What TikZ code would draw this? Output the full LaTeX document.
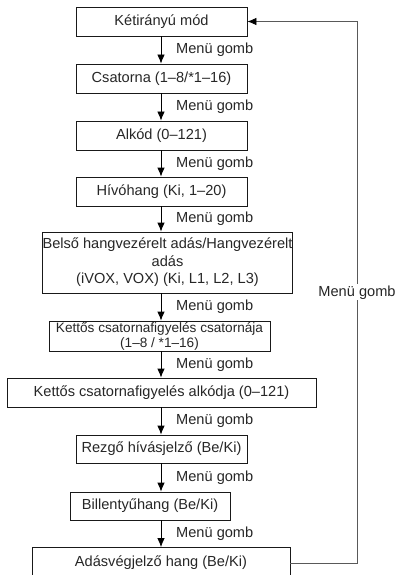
\documentclass[tikz,border=0pt]{standalone}
\usepackage{fontspec}
\setmainfont{Liberation Sans}
\usetikzlibrary{arrows.meta, positioning, calc}

\begin{document}
\begin{tikzpicture}[
    x=1pt, y=-1pt,
    every node/.style={align=center, font=\fontsize{14.6}{17.5}\selectfont, text=black!85},
    menubox/.style={draw=black!90, line width=0.8pt, minimum height=29pt, inner sep=0pt},
    flow/.style={line width=0.8pt, -{Latex[length=9pt, width=7.5pt, color=black]}},
    back/.style={draw=black!65, line width=0.8pt},
    btnlabel/.style={anchor=west, inner sep=0pt}
]

    % Page size of the reference
    \useasboundingbox (0, 0) rectangle (397, 575);

    % Menu steps, top to bottom
    \node[menubox, minimum width=171pt] (m1) at (161.5, 21.5) {Kétirányú mód};
    \node[menubox, minimum width=171pt] (m2) at (161.5, 78.5) {Csatorna (1–8/*1–16)};
    \node[menubox, minimum width=171pt] (m3) at (161.5, 135.5) {Alkód (0–121)};
    \node[menubox, minimum width=171pt] (m4) at (161.5, 191.5) {Hívóhang (Ki, 1–20)};
    \node[menubox, minimum width=245pt, minimum height=61pt] (m5) at (167.5, 262.5) {Belső hangvezérelt adás/Hangvezérelt\\adás\\(iVOX, VOX) (Ki, L1, L2, L3)};
    \node[menubox, minimum width=221pt, minimum height=30pt, font=\fontsize{13.6}{15}\selectfont] (m6) at (159.5, 336) {Kettős csatornafigyelés csatornája\\(1–8 / *1–16)};
    \node[menubox, minimum width=309pt] (m7) at (161.5, 392.5) {Kettős csatornafigyelés alkódja (0–121)};
    \node[menubox, minimum width=171pt, minimum height=28pt] (m8) at (161.5, 449) {Rezgő hívásjelző (Be/Ki)};
    \node[menubox, minimum width=160pt, minimum height=28pt] (m9) at (150, 506) {Billentyűhang (Be/Ki)};
    \node[menubox, minimum width=258pt, minimum height=31pt] (m10) at (161, 563) {Adásvégjelző hang (Be/Ki)};

    % Arrow column and return line column
    \coordinate (spine) at (161, 0);
    \coordinate (ret) at (357, 0);

    % Down arrows with button labels
    \foreach \a/\b in {m1/m2, m2/m3, m3/m4, m4/m5, m5/m6, m6/m7, m7/m8, m8/m9, m9/m10} {
        \draw[flow] (\a.south -| spine) -- coordinate (mid) (\b.north -| spine);
        \node[btnlabel] at ([xshift=15pt]mid) {Menü gomb};
    }

    % Return from the last step to the first
    \draw[back] (m10.east) -- (m10.east -| ret) -- node[fill=white, inner sep=1pt] {Menü gomb} (m1.east -| ret);
    \draw[back, flow] (m1.east -| ret) -- (m1.east);

\end{tikzpicture}
\end{document}
